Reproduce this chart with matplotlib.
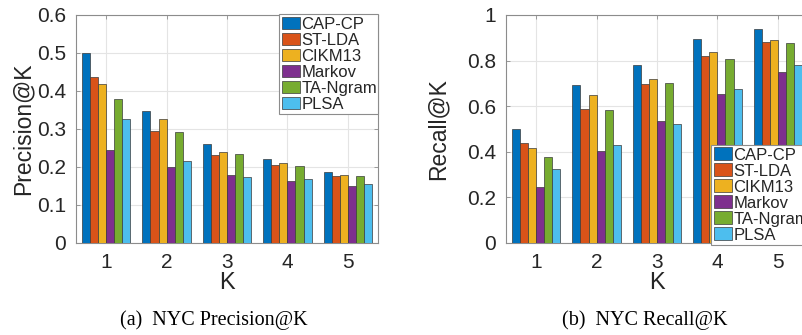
import numpy as np
import matplotlib
matplotlib.use("Agg")
import matplotlib.pyplot as plt

# ---------- data ----------
K = [1, 2, 3, 4, 5]
methods = ["CAP-CP", "ST-LDA", "CIKM13", "Markov", "TA-Ngram", "PLSA"]
colors = ["#0072BD", "#D95319", "#EDB120", "#7E2F8E", "#77AC30", "#4DBEEE"]

precision = {
    "CAP-CP":   [0.499, 0.347, 0.260, 0.222, 0.187],
    "ST-LDA":   [0.436, 0.295, 0.232, 0.206, 0.176],
    "CIKM13":   [0.418, 0.326, 0.239, 0.210, 0.179],
    "Markov":   [0.246, 0.201, 0.180, 0.164, 0.151],
    "TA-Ngram": [0.378, 0.292, 0.234, 0.202, 0.176],
    "PLSA":     [0.327, 0.215, 0.173, 0.169, 0.156],
}
recall = {
    "CAP-CP":   [0.498, 0.692, 0.780, 0.893, 0.937],
    "ST-LDA":   [0.438, 0.587, 0.696, 0.820, 0.880],
    "CIKM13":   [0.416, 0.648, 0.718, 0.839, 0.892],
    "Markov":   [0.245, 0.403, 0.536, 0.653, 0.752],
    "TA-Ngram": [0.377, 0.585, 0.702, 0.807, 0.879],
    "PLSA":     [0.324, 0.429, 0.524, 0.674, 0.780],
}

plt.rcParams["font.family"] = ["Liberation Sans", "DejaVu Sans"]

W, H = 802, 335
fig = plt.figure(figsize=(W / 100, H / 100), dpi=100)


def px_axes(left, right, top, bottom):
    return fig.add_axes([left / W, 1 - bottom / H, (right - left) / W, (bottom - top) / H])


def draw(ax, data, ymax, yticks, ylabel, leg_box, ylabelpad):
    x = np.array(K, dtype=float)
    n = len(methods)
    bw = 0.8 / n
    for i, m in enumerate(methods):
        ax.bar(x + (i - (n - 1) / 2) * bw, data[m], width=bw, color=colors[i],
               edgecolor="#3a3a3a", linewidth=0.5, label=m, zorder=3)
    ax.set_xlim(0.5, 5.5)
    ax.set_ylim(0, ymax)
    ax.set_xticks(K)
    ax.set_yticks(yticks)
    ax.set_yticklabels([f"{t:g}" for t in yticks])
    ax.grid(True, color="#e4e4e4", linewidth=0.8, zorder=0)
    ax.set_axisbelow(True)
    for s in ax.spines.values():
        s.set_color("#8c8c8c")
        s.set_linewidth(0.8)
    ax.tick_params(direction="in", length=3, width=0.6, color="#8c8c8c",
                   labelsize=15, labelcolor="#262626", top=True, right=True, pad=7)
    ax.set_xlabel("K", fontsize=17, color="#262626", labelpad=0)
    ax.set_ylabel(ylabel, fontsize=16.5, color="#262626", labelpad=ylabelpad)
    # legend box given in figure pixels (left, right, top, bottom)
    l, r, t, b = leg_box
    leg = ax.legend(loc="upper left", bbox_to_anchor=(l / W, 1 - b / H, (r - l) / W, (b - t) / H),
                    bbox_transform=fig.transFigure, mode="expand",
                    fontsize=12, labelspacing=0.05, handlelength=1.1, handleheight=0.8,
                    handletextpad=0.1, borderpad=0.15, borderaxespad=0, fancybox=False,
                    framealpha=1, edgecolor="#8c8c8c")
    leg.get_frame().set_linewidth(0.8)
    for txt in leg.get_texts():
        txt.set_color("#262626")
    return leg


ax1 = px_axes(76, 378, 15, 243)
draw(ax1, precision, 0.6, [0, 0.1, 0.2, 0.3, 0.4, 0.5, 0.6], "Precision@K",
     (279, 378, 14, 113), 2)

ax2 = px_axes(506, 808, 15, 243)
draw(ax2, recall, 1.0, [0, 0.2, 0.4, 0.6, 0.8, 1.0], "Recall@K",
     (711, 808, 145, 244), 13)

fig.text(214 / W, 1 - 320 / H, "(a)  NYC Precision@K", ha="center", va="center",
         fontsize=14.5, family="Liberation Serif")
fig.text(645 / W, 1 - 320 / H, "(b)  NYC Recall@K", ha="center", va="center",
         fontsize=14.5, family="Liberation Serif")

fig.savefig("out.png", dpi=100)
